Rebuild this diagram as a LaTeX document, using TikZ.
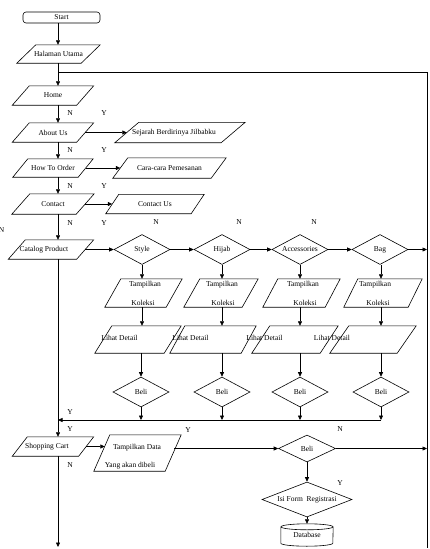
\documentclass[tikz,border=0pt]{standalone}
\usepackage{fontspec}
\setmainfont{Liberation Serif}
\usetikzlibrary{shapes.geometric,arrows.meta,calc}
\newcommand\dfont{\fontsize{7.5}{9}\selectfont}
% draw a parallelogram over a (rectangular, undrawn) node: #1 name, #2 slant offset
\newcommand\pp[2]{\draw[conn] ([xshift=#2]#1.north west) -- (#1.north east)
  -- ([xshift=-#2]#1.south east) -- (#1.south west) -- cycle;}
\begin{document}
\begin{tikzpicture}[x=1pt,y=-1pt,
  every node/.style={font=\dfont, inner sep=0pt},
  shp/.style={draw, line width=0.6pt},
  para/.style n args={2}{rectangle, minimum width=#1, minimum height=#2},
  dia/.style n args={3}{shp, diamond, minimum width=#1, minimum height=#2, aspect=#3},
  conn/.style={line width=0.6pt},
  arr/.style={conn, -{Triangle[length=4.5pt,width=4pt]}},
  lab/.style={font=\dfont}
]
\useasboundingbox (0,0) rectangle (430,549);

% ---------- reference coordinates
\coordinate (sp) at (58,0);
\coordinate (br) at (58,72);
\coordinate (rt) at (427,72);
\coordinate (rb) at (427,548);
\coordinate (hl) at (58,420);
\coordinate (end) at (58,547);
\coordinate (c1) at (142,0);
\coordinate (c2) at (222,0);
\coordinate (c3) at (300,0);
\coordinate (c4) at (381,0);

% ---------- main column
\node[shp, rounded corners=3pt, minimum width=77pt, minimum height=11pt] (start) at (61.5,17.5) {Start};
\node[para={83pt}{18pt}] (halaman) at (58.5,54) {Halaman Utama};
\node[para={81pt}{19pt}] (home) at (53,95.5) {Home};
\node[para={81pt}{19pt}] (about) at (53,132.5) {About Us};
\node[para={80pt}{18pt}] (howto) at (53,168) {How To Order};
\node[para={82pt}{20pt}] (contact) at (53,204) {Contact};
\node[para={85pt}{19pt}] (catalog) at (51,249.5) {};
\node (catalogt) at (44,249.5) {Catalog Product};
\node[para={81pt}{19pt}] (cart) at (53,446.5) {};
\node (cartt) at (47,447) {Shopping Cart};
\pp{halaman}{19pt}
\pp{home}{17pt}
\pp{about}{17pt}
\pp{howto}{15pt}
\pp{contact}{18pt}
\pp{catalog}{17pt}
\pp{cart}{15pt}

% ---------- side pages
\node[para={130pt}{20pt}] (sejarah) at (180,132.5) {};
\node (sejaraht) at (174,132.5) {Sejarah Berdirinya Jilbabku};
\node[para={113pt}{20pt}] (cara) at (169.5,168) {Cara-cara Pemesanan};
\node[para={98pt}{19pt}] (cus) at (155,204) {Contact Us};
\pp{sejarah}{24pt}
\pp{cara}{15pt}
\pp{cus}{13pt}

% ---------- catalog decisions
\node[dia={56pt}{30pt}{1.87}] (style) at (142,249.5) {Style};
\node[dia={56pt}{30pt}{1.87}] (hijab) at (222,249.5) {Hijab};
\node[dia={56pt}{30pt}{1.87}] (acc) at (300,249.5) {Accessories};
\node[dia={56pt}{30pt}{1.87}] (bag) at (380,249.5) {Bag};

% ---------- Tampilkan Koleksi
\node[para={77pt}{28pt}] (tk1) at (143.5,293) {};
\node[para={74pt}{28pt}] (tk2) at (221,293) {};
\node[para={77pt}{28pt}] (tk3) at (301.5,293) {};
\node[para={78pt}{28pt}] (tk4) at (383,293) {};
\pp{tk1}{16pt}\pp{tk2}{16pt}\pp{tk3}{15pt}\pp{tk4}{14pt}
\node (tk1a) at (145,285) {Tampilkan};
\node (tk2a) at (222,285) {Tampilkan};
\node (tk3a) at (303,285) {Tampilkan};
\node (tk4a) at (375,285) {Tampilkan};
\node (tk1b) at (143,303) {Koleksi};
\node (tk2b) at (223,303) {Koleksi};
\node (tk3b) at (305,303) {Koleksi};
\node (tk4b) at (378,303) {Koleksi};

% ---------- Lihat Detail
\node[para={86pt}{27pt}] (ld1) at (138,339.5) {};
\node[para={86pt}{27pt}] (ld2) at (213,339.5) {};
\node[para={86pt}{27pt}] (ld3) at (295,339.5) {};
\node[para={86pt}{27pt}] (ld4) at (373,339.5) {};
\pp{ld1}{17pt}\pp{ld2}{15pt}\pp{ld3}{18pt}\pp{ld4}{19pt}
\node (ld1t) at (119.5,338) {Lihat Detail};
\node (ld2t) at (190.5,338) {Lihat Detail};
\node (ld3t) at (264.5,338) {Lihat Detail};
\node (ld4t) at (332,338) {Lihat Detail};

% ---------- Beli
\node[dia={56pt}{30pt}{1.87}] (beli1) at (141,392) {Beli};
\node[dia={56pt}{30pt}{1.87}] (beli2) at (222,392) {Beli};
\node[dia={56pt}{30pt}{1.87}] (beli3) at (300,392) {Beli};
\node[dia={56pt}{30pt}{1.87}] (beli4) at (381,392) {Beli};

% ---------- checkout
\node[para={87pt}{36pt}] (tdata) at (137.5,453) {};
\pp{tdata}{16pt}
\node (tdataa) at (137,448) {Tampilkan Data};
\node (tdatab) at (130,466) {Yang akan dibeli};
\node[dia={57pt}{27pt}{2.1}] (beli5) at (307,448.5) {Beli};
\node[dia={90pt}{35pt}{2.57}] (isi) at (307,499.5) {Isi Form\ \ Registrasi};
\node[minimum width=52pt, minimum height=22pt] (db) at (307,535) {Database};
\draw[conn] ([yshift=-3pt]db.north) ellipse [x radius=26pt, y radius=3pt];
\draw[conn] ([yshift=-3pt]db.north west) -- ([yshift=3pt]db.south west)
  arc[start angle=180, end angle=360, x radius=26pt, y radius=3pt] -- ([yshift=-3pt]db.north east);

% ---------- connectors
\draw[arr] (start.south -| sp) -- (halaman.north -| sp);
\draw[arr] (halaman.south -| sp) -- (home.north -| sp);
\draw[conn] (br) -- (rt) -- (rb);
\draw[arr] (home.south -| sp) -- (about.north -| sp);
\draw[arr] (about.south -| sp) -- (howto.north -| sp);
\draw[arr] (howto.south -| sp) -- (contact.north -| sp);
\draw[arr] (contact.south -| sp) -- (catalog.north -| sp);
\draw[arr] (catalog.south -| sp) -- (cart.north -| sp);
\draw[arr] (cart.south -| sp) -- (end);

\draw[arr] ([xshift=-8.5pt]about.east) -- ([xshift=12pt]sejarah.west);
\draw[arr] ([xshift=-7.5pt]howto.east) -- ([xshift=7.5pt]cara.west);
\draw[arr] ([xshift=-9pt]contact.east) -- ([xshift=6.5pt]cus.west);

\draw[arr] ([xshift=-8.5pt]catalog.east) -- (style.west);
\draw[arr] (style.east) -- (hijab.west);
\draw[arr] (hijab.east) -- (acc.west);
\draw[arr] (acc.east) -- (bag.west);
\draw[arr] (bag.east) -- (bag.east -| rt);

\draw[arr] (style.south) -- (tk1.north -| c1);
\draw[arr] (hijab.south) -- (tk2.north -| c2);
\draw[arr] (acc.south) -- (tk3.north -| c3);
\draw[arr] (bag.south -| c4) -- (tk4.north -| c4);
\draw[arr] (tk1.south -| c1) -- (ld1.north -| c1);
\draw[arr] (tk2.south -| c2) -- (ld2.north -| c2);
\draw[arr] (tk3.south -| c3) -- (ld3.north -| c3);
\draw[arr] (tk4.south -| c4) -- (ld4.north -| c4);
\draw[arr] (ld1.south -| beli1) -- (beli1.north);
\draw[arr] (ld2.south -| beli2) -- (beli2.north);
\draw[arr] (ld3.south -| beli3) -- (beli3.north);
\draw[arr] (ld4.south -| beli4) -- (beli4.north);

\draw[arr] (beli1.south) -- (beli1.south |- hl);
\draw[arr] (beli2.south) -- (beli2.south |- hl);
\draw[arr] (beli3.south) -- (beli3.south |- hl);
\draw[arr] (beli4.south) -- (beli4.south |- hl);
\draw[arr] (beli4.south |- hl) -- (hl);

\draw[arr] ([xshift=-7.5pt]cart.east) -- ($(cart.east -| tdata.west)+(11pt,0)$);
\draw[arr] ($(beli5.west -| tdata.east)+(-7pt,0)$) -- (beli5.west);
\draw[arr] (beli5.east) -- (beli5.east -| rt);
\draw[arr] (beli5.south) -- (isi.north);
\draw[arr] (isi.south) -- (db.north);

% ---------- labels
\node[lab] (n1) at (70,113) {N};  \node[lab] (y1) at (104,113) {Y};
\node[lab] (n2) at (70,150) {N};  \node[lab] (y2) at (104,150) {Y};
\node[lab] (n3) at (70,186) {N};  \node[lab] (y3) at (104,186) {Y};
\node[lab] (n4) at (70,223) {N};  \node[lab] (y4) at (104,223) {Y};
\node[lab] (n5) at (156,222) {N};
\node[lab] (n6) at (239,222) {N};
\node[lab] (n7) at (314,222) {N};
\node[lab] (n8) at (1.5,230) {N};
\node[lab] (y5) at (70,412) {Y};
\node[lab] (y6) at (70,429) {Y};
\node[lab] (y7) at (188,430) {Y};
\node[lab] (n9) at (70,465) {N};
\node[lab] (n10) at (340,429) {N};
\node[lab] (y8) at (340,483) {Y};
\end{tikzpicture}
\end{document}
